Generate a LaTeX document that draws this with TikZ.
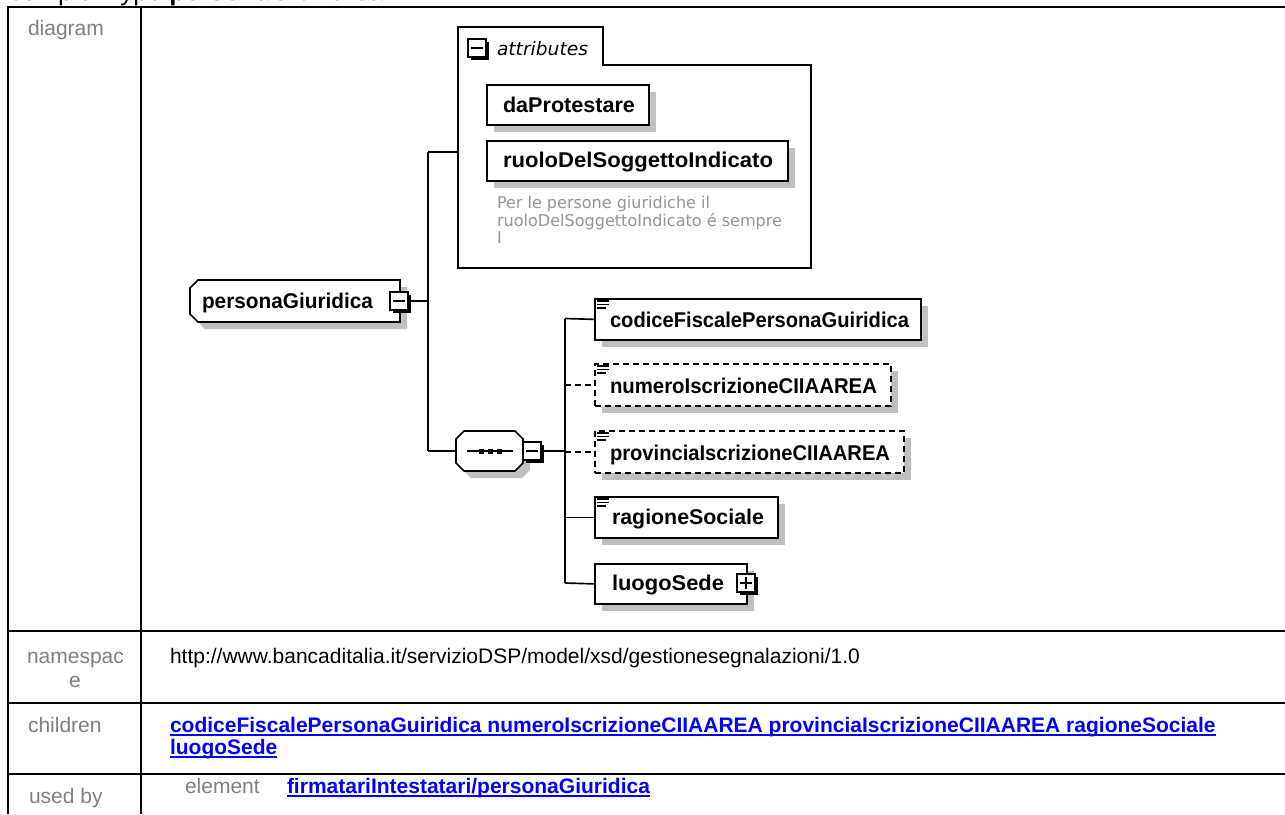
\documentclass[tikz,border=0pt]{standalone}
\usepackage{fontspec}
\setmainfont{Liberation Sans}
\newfontfamily\dv{DejaVu Sans}
\usepackage{graphicx}
\usetikzlibrary{shadows}
\newlength\pxu
\setlength\pxu{0.75pt}
\newcommand\fitw[2]{\resizebox{#1\pxu}{\height}{#2}}
\newcommand\ef{\fontsize{16pt}{18pt}\selectfont\bfseries}
\newcommand\tf{\fontsize{15.75pt}{18pt}\selectfont}
\newcommand\nf{\dv\fontsize{12.2pt}{14pt}\selectfont}
\newcommand\af{\dv\itshape\fontsize{13.8pt}{16pt}\selectfont}
\definecolor{shadowc}{RGB}{192,192,192}
\definecolor{labelc}{RGB}{128,128,128}
\definecolor{notec}{RGB}{150,150,150}
\definecolor{linkc}{RGB}{0,0,255}
\tikzset{
  tbl/.style={line width=1.9pt},
  conn/.style={line width=1.25pt},
  boxline/.style={line width=1.3pt},
  wh/.style 2 args={minimum width=#1*0.75pt, minimum height=#2*0.75pt},
  shd/.style={drop shadow={shadow xshift=5.25pt, shadow yshift=-5.25pt, fill=shadowc, opacity=1}},
  ebox/.style={draw, fill=white, boxline, shd, inner sep=0pt, anchor=north west},
  optbox/.style={ebox, dash pattern=on 4.5pt off 3pt},
  hidden/.style={inner sep=0pt, outer sep=0pt},
  tgl/.style={draw, fill=white, line width=1.2pt, minimum size=13.5pt, inner sep=0pt,
    drop shadow={shadow xshift=1.9pt, shadow yshift=-1.9pt, fill=black, opacity=1}},
  minusbox/.style={tgl, path picture={\draw[line width=1pt]
    ([xshift=-4.3pt]path picture bounding box.center) -- ([xshift=4.3pt]path picture bounding box.center);}},
  plusbox/.style={tgl, path picture={\draw[line width=1pt]
    ([xshift=-4.3pt]path picture bounding box.center) -- ([xshift=4.3pt]path picture bounding box.center)
    ([yshift=-4.3pt]path picture bounding box.center) -- ([yshift=4.3pt]path picture bounding box.center);}},
  txt/.style={anchor=base west, inner sep=0pt, outer sep=0pt},
  lbl/.style={txt, font=\tf, text=labelc},
  lnk/.style={txt, font=\tf\bfseries, text=linkc},
  ename/.style={txt, font=\ef},
  note/.style={txt, font=\nf, text=notec},
}
\newcommand\simpleicon[2]{%
  \draw[line width=0.9pt] (#1,#2) -- ++(12,0) (#1,#2+3.5) -- ++(12,0) (#1,#2+7) -- ++(9,0);}
\begin{document}
\begin{tikzpicture}[x=0.75pt,y=-0.75pt]
\useasboundingbox (0,0) rectangle (1285,814);
\fill[white] (0,0) rectangle (1285,814);

% clipped title
\begin{scope}
\clip (0,0) rectangle (1285,814);
\node[txt, font=\fontsize{19.5pt}{20pt}\selectfont] (title) at (9,0.5) {complexType \textbf{personaGiuridica}};
\end{scope}

% table
\draw[tbl] (8,7) -- (1285,7);
\draw[tbl] (8,631) -- (1285,631);
\draw[tbl] (8,703) -- (1285,703);
\draw[tbl] (8,774) -- (1285,774);
\draw[tbl] (8,6) -- (8,814);
\draw[tbl] (141,6) -- (141,814);

\node[lbl] (ldiag) at (28,35) {diagram};
\node[lbl] (lns1) at (27,663) {namespac};
\node[lbl, anchor=base] (lns2) at (75,687) {e};
\node[lbl] (lchild) at (28,732) {children};
\node[lbl] (lused) at (29,803) {used by};
\node[txt, font=\tf] (ns) at (170,663) {http://www.bancaditalia.it/servizioDSP/model/xsd/gestionesegnalazioni/1.0};
\node[lnk] (ch1) at (170,732) {codiceFiscalePersonaGuiridica numeroIscrizioneCIIAAREA provinciaIscrizioneCIIAAREA ragioneSociale};
\node[lnk] (ch2) at (170,754) {luogoSede};
\node[lbl] (lel) at (185,793) {element};
\node[lnk] (ub) at (287,793) {firmatariIntestatari/personaGiuridica};
\foreach \n in {ch1,ch2,ub}
  \draw[linkc, line width=1.5pt] ([yshift=-2.4pt]\n.base west) -- ([yshift=-2.4pt]\n.base east);

% personaGiuridica element
\fill[shadowc, shift={(7,7)}] (198,280) -- (400,280) -- (400,322) -- (198,322) -- (190,314) -- (190,288) -- cycle;
\draw[boxline, fill=white] (198,280) -- (400,280) -- (400,322) -- (198,322) -- (190,314) -- (190,288) -- cycle;
\node[hidden, wh={210}{42}] (pg) at (295,301) {};
\node[ename] (pgt) at (202,308) {\fitw{171}{personaGiuridica}};
\node[minusbox] (pgm) at (399,301) {};

% attributes container
\draw[boxline] (458,27) -- (603,27) -- (603,65) -- (811,65) -- (811,268) -- (458,268) -- cycle;
\coordinate (attrw) at (458,152);
\node[minusbox] (attm) at (477,48) {};
\node[txt, font=\af] (attt) at (497,55) {\fitw{91}{attributes}};
\node[ebox, wh={162}{40}] (dap) at (486,84) {};
\node[ename] (dapt) at (503,112) {\fitw{132}{daProtestare}};
\node[ebox, wh={301}{40}] (ruolo) at (486,140) {};
\node[ename] (ruot) at (503,167) {\fitw{270}{ruoloDelSoggettoIndicato}};
\node[note] (n1) at (497,208) {\fitw{213}{Per le persone giuridiche il}};
\node[note] (n2) at (497,226) {\fitw{285}{ruoloDelSoggettoIndicato é sempre}};
\node[note] (n3) at (497,243) {I};

% sequence compositor
\fill[shadowc, shift={(7,7)}] (464,431) -- (515,431) -- (523,439) -- (523,463) -- (515,471) -- (464,471) -- (456,463) -- (456,439) -- cycle;
\draw[boxline, fill=white] (464,431) -- (515,431) -- (523,439) -- (523,463) -- (515,471) -- (464,471) -- (456,463) -- (456,439) -- cycle;
\node[hidden, wh={67}{40}] (seq) at (489.5,451) {};
\draw[line width=1pt] (467,451) -- (513,451);
\foreach \sx in {478.5,487.5,496.5} \fill (\sx,448.5) rectangle +(5,5);
\node[minusbox] (seqm) at (532,451) {};

% junctions
\coordinate (jtop) at (428,152);
\coordinate (jbot) at (428,451);
\coordinate (ktop) at (565,318.5);
\coordinate (kbot) at (565,583);

% child elements
\node[ebox, wh={326}{41}] (codice) at (594,298) {};
\simpleicon{597}{301}
\node[ename] (codt) at (610,327) {\fitw{299}{codiceFiscalePersonaGuiridica}};
\node[optbox, wh={296}{42}] (numero) at (594,363) {};
\simpleicon{597}{366}
\node[ename] (numt) at (610,393) {\fitw{267}{numeroIscrizioneCIIAAREA}};
\node[optbox, wh={309}{42}] (prov) at (594,430) {};
\simpleicon{597}{433}
\node[ename] (prot) at (610,460) {\fitw{280}{provinciaIscrizioneCIIAAREA}};
\node[ebox, wh={183}{41}] (ragione) at (594,496) {};
\simpleicon{597}{499}
\node[ename] (ragt) at (612,524) {\fitw{152}{ragioneSociale}};
\node[ebox, wh={152}{40}] (luogo) at (594,563) {};
\node[ename] (luot) at (612,590) {\fitw{112}{luogoSede}};
\node[plusbox] (luogop) at (746,583) {};

% connectors
\draw[conn] (pgm.east) -- (pgm.east -| jtop);
\draw[conn] (jtop) -- (jbot);
\draw[conn] (jtop) -- (attrw);
\draw[conn] (jbot) -- (seq.west);
\draw[conn] (seqm.east) -- (seqm.east -| ktop);
\draw[conn] (ktop) -- (kbot);
\draw[conn] (ktop) -- (codice.west);
\draw[conn, dash pattern=on 4.5pt off 3pt] (numero.west -| ktop) -- (numero.west);
\draw[conn, dash pattern=on 4.5pt off 3pt] (prov.west -| ktop) -- (prov.west);
\draw[conn] (ragione.west -| ktop) -- (ragione.west);
\draw[conn] (kbot) -- (luogo.west);
\end{tikzpicture}
\end{document}
